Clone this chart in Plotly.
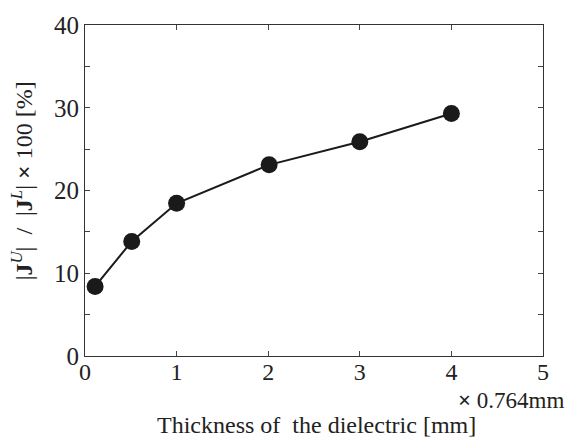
import plotly.graph_objects as go

thickness = [0.11, 0.51, 1.0, 2.01, 3.0, 4.0]
ratio = [8.4, 13.85, 18.45, 23.1, 25.9, 29.3]
x_ticks = [0, 1, 2, 3, 4, 5]
y_ticks = [0, 10, 20, 30, 40]
y_minor_ticks = [5, 15, 25, 35]

FONT = "Liberation Serif"
fig = go.Figure()
fig.add_trace(go.Scatter(
    x=thickness, y=ratio, mode="lines+markers",
    line=dict(color="#1a1a1a", width=2),
    marker=dict(size=17, color="#1a1a1a"),
    showlegend=False,
))
fig.update_layout(
    width=566, height=439,
    margin=dict(l=85, r=23, t=20, b=83),
    plot_bgcolor="white", paper_bgcolor="white",
    font=dict(family=FONT, size=25, color="#222"),
)
fig.update_xaxes(
    range=[0, 5], tickvals=x_ticks, ticks="inside", ticklen=5,
    showline=True, linecolor="#333", linewidth=1.2, mirror="allticks",
    showgrid=False, zeroline=False, tickfont=dict(size=24),
    ticklabelstandoff=-6,
)
fig.update_yaxes(
    range=[0, 40], tickvals=y_ticks, ticks="inside", ticklen=5,
    minor=dict(tickvals=y_minor_ticks, ticks="inside", ticklen=5, showgrid=False),
    showline=True, linecolor="#333", linewidth=1.2, mirror="allticks",
    showgrid=False, zeroline=False, tickfont=dict(size=25),
)
fig.add_annotation(
    text="<b>×</b> 0.764mm", xref="paper", yref="paper",
    x=1.05, y=-0.135, borderpad=0,
    xanchor="right", yanchor="middle", showarrow=False, font=dict(size=23),
)
fig.add_annotation(
    text="Thickness of  the dielectric [mm]", xref="paper", yref="paper",
    x=0.505, y=-0.208, borderpad=0, xanchor="center", yanchor="middle", showarrow=False,
    font=dict(size=24),
)
fig.add_annotation(
    text="|<b>J</b><sup><i>U</i></sup>|  /  |<b>J</b><sup><i>L</i></sup>| <b>×</b> 100 [%]",
    xref="paper", yref="paper", x=-0.138, y=0.53, textangle=-90,
    xanchor="center", yanchor="middle", showarrow=False, font=dict(size=24),
)
fig.write_html("out.html")
